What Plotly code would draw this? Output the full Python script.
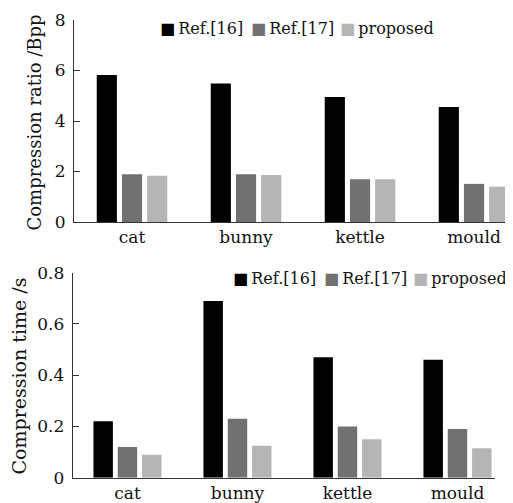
import plotly.graph_objects as go

categories = ["cat", "bunny", "kettle", "mould"]
series_names = ["Ref.[16]", "Ref.[17]", "proposed"]
ratio_ref16 = [5.82, 5.49, 4.95, 4.55]
ratio_ref17 = [1.89, 1.89, 1.69, 1.51]
ratio_prop = [1.83, 1.86, 1.69, 1.40]
time_ref16 = [0.22, 0.69, 0.47, 0.46]
time_ref17 = [0.12, 0.23, 0.20, 0.19]
time_prop = [0.09, 0.125, 0.15, 0.115]
colors = ["#000000", "#717171", "#b5b5b5"]

FONT = "DejaVu Serif"
OFF = 8  # page body margin in the browser
W, H = 513 - OFF, 503 - OFF


def px(x):
    return (x - OFF) / W


def py(y):
    return 1 - (y - OFF) / H


fig = go.Figure()
top = [ratio_ref16, ratio_ref17, ratio_prop]
bot = [time_ref16, time_ref17, time_prop]
xs = list(range(len(categories)))
for name, vals, c in zip(series_names, top, colors):
    fig.add_trace(go.Bar(x=xs, y=vals, name=name, marker=dict(color=c, line=dict(width=0)),
                         xaxis="x", yaxis="y", showlegend=False))
for name, vals, c in zip(series_names, bot, colors):
    fig.add_trace(go.Bar(x=xs, y=vals, name=name, marker=dict(color=c, line=dict(width=0)),
                         xaxis="x2", yaxis="y2", showlegend=False))

axis_line = dict(showline=True, linecolor="#333333", linewidth=1, showgrid=False, zeroline=False,
                 automargin=False)
tickfont = dict(family=FONT, size=17, color="#111111")

fig.update_layout(
    template="none",
    width=W, height=H,
    margin=dict(l=0, r=0, t=0, b=0, autoexpand=False),
    paper_bgcolor="white", plot_bgcolor="white",
    barmode="group", bargap=0.337, bargroupgap=0.2,
    font=dict(family=FONT, color="#111111"),
    xaxis=dict(domain=[px(74), 1.0], range=[-0.509, 3.342], anchor="y",
               tickmode="array", tickvals=xs, ticktext=categories, ticks="",
               tickfont=tickfont, **axis_line),
    yaxis=dict(domain=[py(222), py(20)], range=[0, 8], anchor="x",
               tickmode="array", tickvals=[0, 2, 4, 6, 8], ticks="inside", ticklen=6,
               tickcolor="#333333", tickfont=tickfont, ticklabelstandoff=4, **axis_line),
    xaxis2=dict(domain=[px(72.7), px(495)], range=[-0.498, 3.341], anchor="y2",
                tickmode="array", tickvals=xs, ticktext=categories, ticks="",
                tickfont=tickfont, **axis_line),
    yaxis2=dict(domain=[py(477.7), py(272.7)], range=[0, 0.8], anchor="x2",
                tickmode="array", tickvals=[0, 0.2, 0.4, 0.6, 0.8], ticktext=["0", "0.2", "0.4", "0.6", "0.8"],
                ticks="inside", ticklen=6, tickcolor="#333333", tickfont=tickfont,
                ticklabelstandoff=4, **axis_line),
)

# y-axis titles
fig.add_annotation(text="Compression ratio /Bpp", textangle=-90, xref="paper", yref="paper",
                   x=px(34), y=py(122.5), showarrow=False, xanchor="center", yanchor="middle",
                   font=dict(family=FONT, size=18, color="#111111"))
fig.add_annotation(text="Compression time /s", textangle=-90, xref="paper", yref="paper",
                   x=px(18.5), y=py(376), showarrow=False, xanchor="center", yanchor="middle",
                   font=dict(family=FONT, size=19, color="#111111"))


# legends
def legend(y_px, starts):
    for name, c, x0 in zip(series_names, colors, starts):
        fig.add_annotation(text=f"<span style='color:{c}'>■</span>\u2009{name}", xref="paper", yref="paper",
                           x=px(x0), y=py(y_px), showarrow=False, xanchor="left", yanchor="middle",
                           font=dict(family=FONT, size=16, color="#111111"))


legend(28, [158, 249, 338])
legend(278, [231, 322, 411])

fig.write_html("out.html")
